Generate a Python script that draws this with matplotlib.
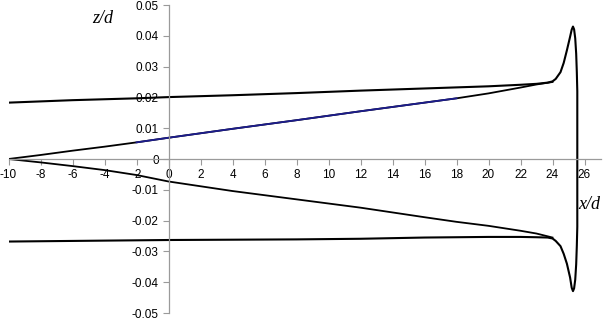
import numpy as np
import matplotlib.pyplot as plt
from matplotlib.ticker import FixedLocator, FuncFormatter

plt.rcParams['font.family'] = ['Liberation Sans', 'DejaVu Sans']
plt.rcParams['axes.unicode_minus'] = False

# outer contour, upper branch (x/d, z/d)
xu_out = [-10, -8, -6, -4, -2, 0, 4, 8, 12, 16, 20, 22, 23, 23.7, 24, 24.2, 24.5, 24.7, 24.9, 25.1, 25.2, 25.28,
          25.35, 25.42, 25.48, 25.52, 25.55]
zu_out = [0.0183, 0.0187, 0.0191, 0.0194, 0.0197, 0.0201, 0.0207, 0.0214, 0.0222, 0.0229, 0.0236, 0.0241, 0.0244,
          0.0248, 0.0252, 0.0260, 0.0282, 0.0312, 0.0353, 0.0397, 0.0420, 0.0430,
          0.0421, 0.0392, 0.0342, 0.0282, 0.0220]
# outer contour, lower branch
xl_out = [25.55, 25.52, 25.48, 25.42, 25.35, 25.28, 25.2, 25.1, 24.9, 24.7, 24.5, 24.2, 24, 23.7, 23, 22, 20, 16,
          12, 8, 4, 0, -4, -8, -10]
zl_out = [-0.0220, -0.0282, -0.0342, -0.0392, -0.0420, -0.0429, -0.0418, -0.0385, -0.0340, -0.0308, -0.0283,
          -0.0266, -0.0258, -0.0255, -0.0254, -0.0253, -0.0253, -0.0255, -0.0259, -0.0261, -0.0262, -0.0263,
          -0.0265, -0.0267, -0.0268]
# inner upper line
xu_in = [-10, -8, -6, -4, -2, 0, 4, 8, 12, 16, 18, 20, 22, 23, 24]
zu_in = [0.0, 0.0013, 0.0027, 0.0040, 0.0054, 0.0069, 0.0098, 0.0126, 0.0155, 0.0183, 0.0197, 0.0213, 0.0232, 0.0242, 0.0250]
# inner lower line
xl_in = [-10, -8, -6, -4, -2, 0, 4, 8, 12, 16, 18, 20, 22, 23, 24]
zl_in = [0.0, -0.0011, -0.0023, -0.0036, -0.0052, -0.0073, -0.0104, -0.0131, -0.0158, -0.0189, -0.0204, -0.0217,
         -0.0233, -0.0242, -0.0255]

xticks = np.arange(-10, 27, 2)
yticks = np.round(np.arange(-0.05, 0.0501, 0.01), 2)

fig = plt.figure(figsize=(6.12, 3.19), dpi=100)
ax = fig.add_axes([8.5 / 612, 6 / 319, 592 / 612, 308 / 319])

ax.plot(xu_out + xl_out, zu_out + zl_out, color='black', lw=1.5)
ax.plot(xu_in, zu_in, color='black', lw=1.3)
ax.plot(xl_in, zl_in, color='black', lw=1.3)
xb = np.array(xu_in)
zb = np.array(zu_in)
m = (xb >= -2) & (xb <= 18)
ax.plot(xb[m], zb[m], color='#1c1c8c', lw=1.3)

ax.set_xlim(-10, 27)
ax.set_ylim(-0.05, 0.05)

for s in ['top', 'right']:
    ax.spines[s].set_visible(False)
ax.spines['left'].set_position(('data', 0))
ax.spines['bottom'].set_position(('data', 0))
for s in ['left', 'bottom']:
    ax.spines[s].set_color('#9a9a9a')
    ax.spines[s].set_linewidth(0.9)

ax.xaxis.set_major_locator(FixedLocator(xticks))
ax.yaxis.set_major_locator(FixedLocator(yticks))
ax.xaxis.set_major_formatter(FuncFormatter(lambda v, p: '%d' % round(v)))
ax.yaxis.set_major_formatter(FuncFormatter(lambda v, p: '0' if abs(v) < 1e-9 else ('%.2f' % v)))
ax.tick_params(axis='both', direction='out', length=4, width=0.8, color='#9a9a9a',
               labelsize=8.5, labelcolor='black', pad=3)

ax.text(-4.1, 0.0455, 'z/d', fontsize=13, style='italic', family='Liberation Serif', ha='center', va='center')
ax.text(26.3, -0.0148, 'x/d', fontsize=13, style='italic', family='Liberation Serif', ha='center', va='center')

fig.savefig('out.png', dpi=100)
